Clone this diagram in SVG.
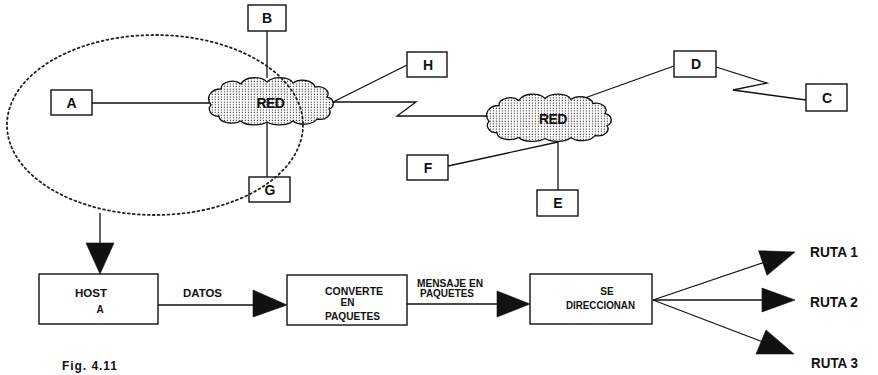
<svg xmlns="http://www.w3.org/2000/svg" width="878" height="375" viewBox="0 0 878 375">
  <style>
    .box { fill: #fff; stroke: #111; stroke-width: 1.4; }
    .wire { fill: none; stroke: #111; stroke-width: 1.3; stroke-linejoin: miter; }
    .head { fill: #111; stroke: #111; stroke-width: 0.6; stroke-linejoin: miter; }
    .cloud { fill: url(#stipple); stroke: #111; stroke-width: 1.3; }
    .lbl { font-family: "Liberation Sans", Arial, sans-serif; font-weight: bold; fill: #111; }
    .letter { font-size: 14px; text-anchor: middle; }
    .small { font-size: 10px; text-anchor: middle; }
    .route { font-size: 15px; }
    .scope { fill: none; stroke: #222; stroke-width: 1.8; stroke-dasharray: 1.8 3.2; stroke-linecap: round; }
  </style>
  <defs>
    <pattern id="stipple" width="3" height="2.6" patternUnits="userSpaceOnUse">
      <rect width="3" height="2.6" fill="#fff"/>
      <rect x="0.8" y="0.6" width="1.2" height="1.1" fill="#444"/>
    </pattern>
    <path id="cloudShape" d="M -60,4 C -66,-4 -60,-12 -50,-12 C -50,-20 -36,-22 -30,-17 C -26,-25 -10,-25 -4,-19 C 2,-25 18,-25 22,-18 C 28,-23 42,-21 44,-14 C 52,-16 60,-10 56,-4 C 64,-2 64,6 58,8 C 62,14 54,20 46,18 C 42,24 28,25 22,20 C 16,25 2,25 -4,21 C -10,25 -26,25 -30,20 C -38,24 -52,22 -52,15 C -60,16 -64,8 -60,4 Z"/>
  </defs>

  <rect width="878" height="375" fill="#fff"/>

  <!-- network links -->
  <g id="connectors">
    <line class="wire" x1="267" y1="31" x2="267" y2="78"/>
    <line class="wire" x1="92" y1="103" x2="210" y2="103"/>
    <line class="wire" x1="267" y1="123" x2="267" y2="177"/>
    <line class="wire" x1="333" y1="102" x2="407" y2="65"/>
    <polyline class="wire" points="333,102 416,102 397,116 489,116"/>
    <line class="wire" x1="582" y1="99" x2="674" y2="66"/>
    <polyline class="wire" points="716,67 767,83 733,90 806,100"/>
    <line class="wire" x1="448" y1="166" x2="558" y2="142"/>
    <line class="wire" x1="558" y1="141" x2="558" y2="190"/>

    <!-- process flow -->
    <line class="wire" x1="100" y1="213" x2="100" y2="246"/>
    <polygon class="head" points="86,243 114,243 100,274"/>
    <line class="wire" x1="158" y1="305" x2="256" y2="305"/>
    <polygon class="head" points="253,290 253,317 287,305"/>
    <line class="wire" x1="407" y1="304" x2="499" y2="304"/>
    <polygon class="head" points="497,291 497,317 530,304"/>
    <line class="wire" x1="653" y1="300" x2="765" y2="262"/>
    <polygon class="head" points="758.6,250.7 767,275.3 795,252"/>
    <line class="wire" x1="653" y1="300" x2="764" y2="300"/>
    <polygon class="head" points="762,288 762,312 795,300"/>
    <line class="wire" x1="653" y1="300" x2="763" y2="342"/>
    <polygon class="head" points="756,354 766,330 794,354"/>
  </g>

  <g id="red1">
    <use href="#cloudShape" class="cloud" transform="translate(271,101)"/>
    <text class="lbl" x="270.5" y="108" font-size="14" text-anchor="middle" letter-spacing="-0.6">RED</text>
  </g>
  <g id="red2">
    <use href="#cloudShape" class="cloud" transform="translate(549,117.5)"/>
    <text class="lbl" x="553" y="124" font-size="14" text-anchor="middle" letter-spacing="-0.6">RED</text>
  </g>

  <g id="node-a"><rect class="box" x="51" y="90" width="41" height="25"/><text class="lbl letter" x="71.5" y="108">A</text></g>
  <g id="node-b"><rect class="box" x="248" y="5" width="38" height="26"/><text class="lbl letter" x="267" y="23">B</text></g>
  <g id="node-g"><rect class="box" x="249" y="177" width="41" height="25"/><text class="lbl letter" x="270" y="195">G</text></g>
  <g id="node-h"><rect class="box" x="407" y="52" width="40" height="25"/><text class="lbl letter" x="428" y="70">H</text></g>
  <g id="node-d"><rect class="box" x="674" y="51" width="42" height="26"/><text class="lbl letter" x="696" y="69">D</text></g>
  <g id="node-c"><rect class="box" x="806" y="84" width="41" height="27"/><text class="lbl letter" x="827" y="103">C</text></g>
  <g id="node-f"><rect class="box" x="407" y="155" width="41" height="25"/><text class="lbl letter" x="428" y="173">F</text></g>
  <g id="node-e"><rect class="box" x="537" y="190" width="41" height="26"/><text class="lbl letter" x="558" y="208">E</text></g>

  <!-- scope of host A around the first network -->
  <ellipse class="scope" cx="155" cy="125" rx="148" ry="90"/>

  <g id="host-a">
    <rect class="box" x="39" y="274" width="119" height="50"/>
    <text class="lbl small" x="91" y="297" textLength="32" lengthAdjust="spacingAndGlyphs">HOST</text>
    <text class="lbl small" x="100" y="313">A</text>
  </g>
  <text class="lbl small" x="202.5" y="297" textLength="39" lengthAdjust="spacingAndGlyphs">DATOS</text>

  <g id="convierte">
    <rect class="box" x="287" y="275" width="120" height="50"/>
    <text class="lbl small" x="354" y="295" textLength="58" lengthAdjust="spacingAndGlyphs">CONVERTE</text>
    <text class="lbl small" x="347.5" y="306">EN</text>
    <text class="lbl small" x="352.5" y="320" textLength="55" lengthAdjust="spacingAndGlyphs">PAQUETES</text>
  </g>
  <text class="lbl small" x="450" y="287" textLength="66" lengthAdjust="spacingAndGlyphs">MENSAJE EN</text>
  <text class="lbl small" x="447" y="297" textLength="54" lengthAdjust="spacingAndGlyphs">PAQUETES</text>

  <g id="direcciona">
    <rect class="box" x="530" y="274" width="122" height="50"/>
    <text class="lbl small" x="607" y="295">SE</text>
    <text class="lbl small" x="600.5" y="309" textLength="69" lengthAdjust="spacingAndGlyphs">DIRECCIONAN</text>
  </g>

  <text class="lbl route" x="810" y="257" textLength="48" lengthAdjust="spacingAndGlyphs">RUTA 1</text>
  <text class="lbl route" x="810" y="307" textLength="48" lengthAdjust="spacingAndGlyphs">RUTA 2</text>
  <text class="lbl route" x="811" y="368" textLength="47" lengthAdjust="spacingAndGlyphs">RUTA 3</text>

  <text class="lbl" x="62" y="370" font-size="12" textLength="55" lengthAdjust="spacing">Fig. 4.11</text>
</svg>
